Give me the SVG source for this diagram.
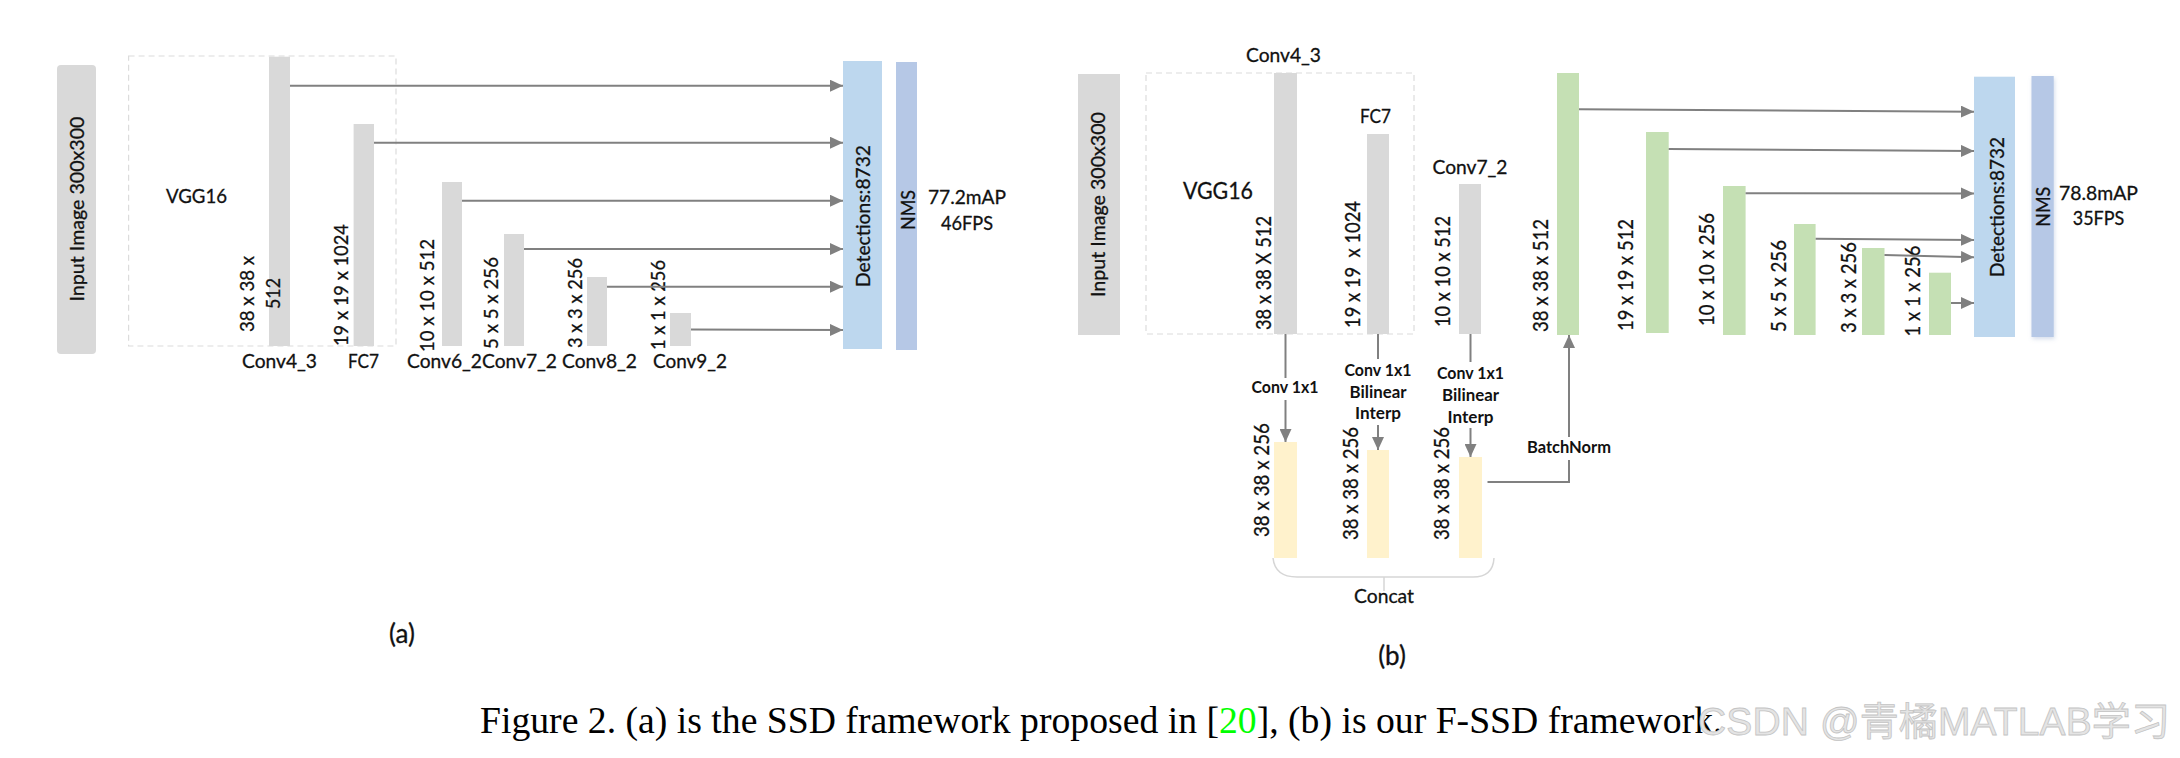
<svg xmlns="http://www.w3.org/2000/svg" width="2180" height="758" viewBox="0 0 2180 758">
<defs>
<marker id="ah" markerUnits="userSpaceOnUse" markerWidth="13" markerHeight="12" refX="13" refY="6" orient="auto">
<path d="M0,0 L13,6 L0,12 z" fill="#808080"/>
</marker>
<filter id="sh" x="-30%" y="-5%" width="160%" height="110%">
<feGaussianBlur in="SourceAlpha" stdDeviation="2"/>
<feOffset dx="1" dy="2" result="b"/>
<feFlood flood-color="#8aa0c8" flood-opacity="0.35"/>
<feComposite in2="b" operator="in"/>
<feMerge><feMergeNode/><feMergeNode in="SourceGraphic"/></feMerge>
</filter>
</defs>
<style>
.t{font-family:Lato,"Liberation Sans",sans-serif;fill:#111;stroke:#111;stroke-width:0.3;}
.s{font-size:20px;}
.d{font-size:20px;}
.d2{font-size:22px;}
.b{font-family:Lato,"Liberation Sans",sans-serif;font-weight:bold;font-size:17px;fill:#111;}
.m{text-anchor:middle;}
.gray{fill:#d9d9d9;}
.det{fill:#bdd7ee;}
.nms{fill:#b6c8e6;}
.grn{fill:#c5e0b4;}
.yel{fill:#fff2cc;}
.dash{fill:none;stroke:#dcdcdc;stroke-width:1.2;stroke-dasharray:6 4;}
.c{fill:none;stroke:#808080;stroke-width:2;}
.a{fill:none;stroke:#808080;stroke-width:2;marker-end:url(#ah);}
.br{fill:none;stroke:#d6d6d6;stroke-width:1.5;}
</style>
<rect width="2180" height="758" fill="#fff"/>

<!-- ===== (a) SSD ===== -->
<g id="a-input">
<rect class="gray" x="57" y="65" width="39" height="289" rx="4"/>
<text class="t s m" transform="translate(84,209) rotate(-90)" textLength="185" lengthAdjust="spacingAndGlyphs">Input Image 300x300</text>
</g>
<g id="a-vgg16">
<rect class="dash" x="128.6" y="56" width="267.4" height="290"/>
<text class="t s m" x="196.5" y="203" textLength="61" lengthAdjust="spacingAndGlyphs">VGG16</text>
</g>
<g id="a-conv4_3">
<rect class="gray" x="269" y="56.7" width="21" height="289.3"/>
<text class="t d m" transform="translate(254,294) rotate(-90)" textLength="76" lengthAdjust="spacingAndGlyphs">38 x 38 x</text>
<text class="t d m" transform="translate(280,293.5) rotate(-90)" textLength="31" lengthAdjust="spacingAndGlyphs">512</text>
<text class="t s m" x="279.5" y="368" textLength="75" lengthAdjust="spacingAndGlyphs">Conv4_3</text>
</g>
<g id="a-fc7">
<rect class="gray" x="353.6" y="124" width="20.4" height="222"/>
<text class="t d m" transform="translate(348,285) rotate(-90)" textLength="122" lengthAdjust="spacingAndGlyphs">19 x 19 x 1024</text>
<text class="t s m" x="363.5" y="368" textLength="31" lengthAdjust="spacingAndGlyphs">FC7</text>
</g>
<g id="a-conv6_2">
<rect class="gray" x="442" y="182" width="20" height="164"/>
<text class="t d m" transform="translate(434,295.5) rotate(-90)" textLength="113" lengthAdjust="spacingAndGlyphs">10 x 10 x 512</text>
<text class="t s m" x="444.5" y="368" textLength="75" lengthAdjust="spacingAndGlyphs">Conv6_2</text>
</g>
<g id="a-conv7_2">
<rect class="gray" x="504" y="234" width="20" height="112"/>
<text class="t d m" transform="translate(498,303) rotate(-90)" textLength="92" lengthAdjust="spacingAndGlyphs">5 x 5 x 256</text>
<text class="t s m" x="519.5" y="368" textLength="75" lengthAdjust="spacingAndGlyphs">Conv7_2</text>
</g>
<g id="a-conv8_2">
<rect class="gray" x="587" y="277" width="20" height="69"/>
<text class="t d m" transform="translate(582,303) rotate(-90)" textLength="90" lengthAdjust="spacingAndGlyphs">3 x 3 x 256</text>
<text class="t s m" x="599.5" y="368" textLength="75" lengthAdjust="spacingAndGlyphs">Conv8_2</text>
</g>
<g id="a-conv9_2">
<rect class="gray" x="670" y="313" width="21" height="33"/>
<text class="t d m" transform="translate(665,305) rotate(-90)" textLength="90" lengthAdjust="spacingAndGlyphs">1 x 1 x 256</text>
<text class="t s m" x="690" y="368" textLength="74" lengthAdjust="spacingAndGlyphs">Conv9_2</text>
</g>
<g id="a-detections">
<rect class="det" x="843" y="61" width="39" height="288"/>
<text class="t s m" transform="translate(870,216) rotate(-90)" textLength="142" lengthAdjust="spacingAndGlyphs">Detections:8732</text>
</g>
<g id="a-nms">
<rect class="nms" x="896" y="62" width="21" height="288"/>
<text class="t s m" transform="translate(915,210) rotate(-90)" textLength="40" lengthAdjust="spacingAndGlyphs">NMS</text>
</g>
<g id="a-result">
<text class="t s m" x="967" y="204" textLength="78" lengthAdjust="spacingAndGlyphs">77.2mAP</text>
<text class="t s m" x="967" y="230" textLength="52" lengthAdjust="spacingAndGlyphs">46FPS</text>
</g>
<text class="t m" x="402" y="643" font-size="26" stroke-width="0.2">(a)</text>

<g id="a-connectors">
<line class="a" x1="290" y1="85.7" x2="843" y2="85.7"/>
<line class="a" x1="374" y1="142.7" x2="843" y2="142.7"/>
<line class="a" x1="462" y1="200.7" x2="843" y2="200.7"/>
<line class="a" x1="524" y1="249" x2="843" y2="249"/>
<line class="a" x1="607" y1="286.7" x2="843" y2="286.7"/>
<line class="a" x1="691" y1="329.5" x2="843" y2="330"/>
</g>

<!-- ===== (b) F-SSD ===== -->
<g id="b-input">
<rect class="gray" x="1078" y="74" width="42" height="261"/>
<text class="t s m" transform="translate(1105,204.5) rotate(-90)" textLength="185" lengthAdjust="spacingAndGlyphs">Input Image 300x300</text>
</g>
<g id="b-vgg16">
<rect class="dash" x="1146" y="73" width="268" height="261"/>
<text class="t m" x="1218" y="199" font-size="23px" textLength="70" lengthAdjust="spacingAndGlyphs">VGG16</text>
</g>
<g id="b-conv4_3">
<rect class="gray" x="1274" y="73" width="23" height="261"/>
<text class="t s m" x="1283.5" y="62" textLength="75" lengthAdjust="spacingAndGlyphs">Conv4_3</text>
<text class="t d2 m" transform="translate(1271,273) rotate(-90)" textLength="114" lengthAdjust="spacingAndGlyphs">38 x 38 X 512</text>
</g>
<g id="b-fc7">
<rect class="gray" x="1367" y="134" width="22" height="200"/>
<text class="t s m" x="1375.5" y="123" textLength="31" lengthAdjust="spacingAndGlyphs">FC7</text>
<text class="t d2 m" transform="translate(1360,264.5) rotate(-90)" textLength="127" lengthAdjust="spacingAndGlyphs" xml:space="preserve">19 x 19  x 1024</text>
</g>
<g id="b-conv7_2">
<rect class="gray" x="1459" y="184" width="22" height="150"/>
<text class="t s m" x="1470" y="174" textLength="75" lengthAdjust="spacingAndGlyphs">Conv7_2</text>
<text class="t d2 m" transform="translate(1450,271.5) rotate(-90)" textLength="111" lengthAdjust="spacingAndGlyphs">10 x 10 x 512</text>
</g>
<g id="b-y1">
<rect class="yel" x="1274" y="442" width="23" height="116"/>
<text class="t d2 m" transform="translate(1268.6,480) rotate(-90)" textLength="114" lengthAdjust="spacingAndGlyphs">38 x 38 x 256</text>
</g>
<g id="b-y2">
<rect class="yel" x="1367" y="450" width="22" height="108"/>
<text class="t d2 m" transform="translate(1358,483.5) rotate(-90)" textLength="113" lengthAdjust="spacingAndGlyphs">38 x 38 x 256</text>
</g>
<g id="b-y3">
<rect class="yel" x="1459" y="457" width="23" height="101"/>
<text class="t d2 m" transform="translate(1449,483.5) rotate(-90)" textLength="113" lengthAdjust="spacingAndGlyphs">38 x 38 x 256</text>
</g>
<g id="b-concat">
<path class="br" d="M1273,558 Q1275,577 1297,577 H1473 Q1493,577 1494,558"/>
<line class="br" x1="1384" y1="577" x2="1384" y2="591"/>
<text class="t s m" x="1384" y="603" textLength="60" lengthAdjust="spacingAndGlyphs">Concat</text>
</g>
<g id="b-g1">
<rect class="grn" x="1557" y="73" width="22" height="262"/>
<text class="t d2 m" transform="translate(1547.5,275.5) rotate(-90)" textLength="113" lengthAdjust="spacingAndGlyphs">38 x 38 x 512</text>
</g>
<g id="b-g2">
<rect class="grn" x="1646" y="132" width="22.7" height="201"/>
<text class="t d2 m" transform="translate(1632.7,275) rotate(-90)" textLength="112" lengthAdjust="spacingAndGlyphs">19 x 19 x 512</text>
</g>
<g id="b-g3">
<rect class="grn" x="1723" y="186" width="22.6" height="149"/>
<text class="t d2 m" transform="translate(1714,269.5) rotate(-90)" textLength="113" lengthAdjust="spacingAndGlyphs">10 x 10 x 256</text>
</g>
<g id="b-g4">
<rect class="grn" x="1794" y="224" width="21.6" height="111"/>
<text class="t d2 m" transform="translate(1786,286) rotate(-90)" textLength="92" lengthAdjust="spacingAndGlyphs">5 x 5 x 256</text>
</g>
<g id="b-g5">
<rect class="grn" x="1862" y="248" width="22.5" height="87"/>
<text class="t d2 m" transform="translate(1855.5,287.5) rotate(-90)" textLength="91" lengthAdjust="spacingAndGlyphs">3 x 3 x 256</text>
</g>
<g id="b-g6">
<rect class="grn" x="1929" y="272.7" width="22" height="62.3"/>
<text class="t d2 m" transform="translate(1919.7,291) rotate(-90)" textLength="91" lengthAdjust="spacingAndGlyphs">1 x 1 x 256</text>
</g>
<g id="b-detections">
<rect class="det" x="1974" y="76.7" width="41" height="260.3"/>
<text class="t s m" transform="translate(2004,207) rotate(-90)" textLength="140" lengthAdjust="spacingAndGlyphs">Detections:8732</text>
</g>
<g id="b-nms">
<rect class="nms" x="2031.5" y="76" width="22.2" height="261" filter="url(#sh)"/>
<text class="t s m" transform="translate(2050,206.7) rotate(-90)" textLength="40" lengthAdjust="spacingAndGlyphs">NMS</text>
</g>
<g id="b-result">
<text class="t s m" x="2098.5" y="200" textLength="79" lengthAdjust="spacingAndGlyphs">78.8mAP</text>
<text class="t s m" x="2098.5" y="225" textLength="51.5" lengthAdjust="spacingAndGlyphs">35FPS</text>
</g>
<text class="t m" x="1392" y="665" font-size="26" stroke-width="0.2">(b)</text>

<g id="b-connectors">
<line class="c" x1="1285.5" y1="334" x2="1285.5" y2="378"/>
<line class="a" x1="1285.5" y1="400" x2="1285.5" y2="442"/>
<text class="b m" x="1285" y="393" textLength="67" lengthAdjust="spacingAndGlyphs">Conv 1x1</text>
<line class="c" x1="1378" y1="334" x2="1378" y2="359"/>
<line class="a" x1="1378" y1="425" x2="1378" y2="450"/>
<text class="b m" x="1378" y="376" textLength="67" lengthAdjust="spacingAndGlyphs">Conv 1x1</text>
<text class="b m" x="1378" y="398" textLength="57" lengthAdjust="spacingAndGlyphs">Bilinear</text>
<text class="b m" x="1378" y="419" textLength="46" lengthAdjust="spacingAndGlyphs">Interp</text>
<line class="c" x1="1470.5" y1="334" x2="1470.5" y2="362"/>
<line class="a" x1="1470.5" y1="428" x2="1470.5" y2="457"/>
<text class="b m" x="1470.5" y="379" textLength="67" lengthAdjust="spacingAndGlyphs">Conv 1x1</text>
<text class="b m" x="1470.5" y="401" textLength="57" lengthAdjust="spacingAndGlyphs">Bilinear</text>
<text class="b m" x="1470.5" y="423" textLength="46" lengthAdjust="spacingAndGlyphs">Interp</text>
<polyline class="c" points="1487.5,482 1569,482 1569,460"/>
<line class="a" x1="1569" y1="437" x2="1569" y2="335"/>
<text class="b m" x="1569" y="453" textLength="84" lengthAdjust="spacingAndGlyphs">BatchNorm</text>
<line class="a" x1="1579" y1="109.3" x2="1974" y2="111.7"/>
<line class="a" x1="1668.7" y1="149" x2="1974" y2="151"/>
<line class="a" x1="1745.6" y1="193.3" x2="1974" y2="193.5"/>
<line class="a" x1="1815.6" y1="238.7" x2="1974" y2="240"/>
<line class="a" x1="1884.5" y1="255" x2="1974" y2="257.3"/>
<line class="a" x1="1951" y1="303" x2="1974" y2="303"/>
</g>

<!-- ===== caption ===== -->
<text x="480" y="733" font-family="'Liberation Serif','Times New Roman',serif" font-size="37.7" fill="#000">Figure 2. (a) is the SSD framework proposed in [<tspan fill="#00ff00">20</tspan>], (b) is our F-SSD framework.</text>
<text x="1698" y="735" font-family="'Liberation Sans','Noto Sans CJK SC',sans-serif" font-size="39" fill="#e4e4e4" stroke="#c4c4c4" stroke-width="0.8" textLength="472">CSDN @青橘MATLAB学习</text>
</svg>
